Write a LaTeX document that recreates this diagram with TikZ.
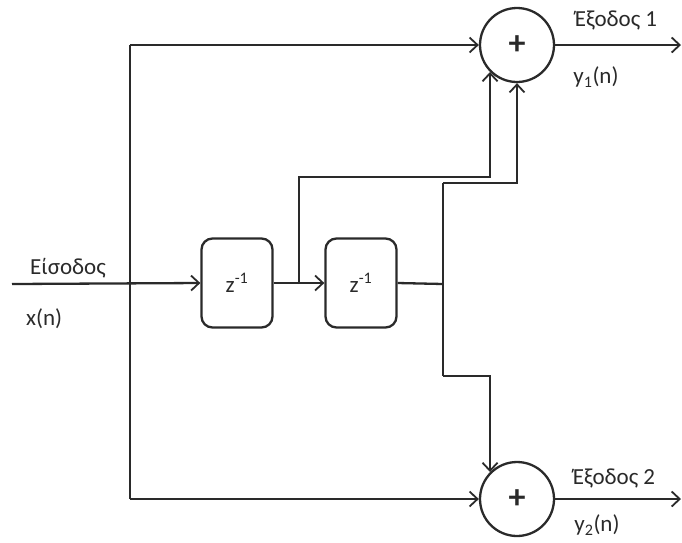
\documentclass[tikz,border=0pt]{standalone}
\usepackage{fontspec}
\setmainfont{Carlito}
\usetikzlibrary{arrows.meta}
\definecolor{ln}{HTML}{2A2A2A}
\begin{document}
\begin{tikzpicture}[x=1pt,y=-1pt,
  wire/.style={draw=ln,line width=2.3pt},
  arr/.style={wire,-{Straight Barb[length=8pt,width=15pt,line width=1.8pt]}},
  delay/.style={draw=ln,line width=2.3pt,rounded corners=11pt,minimum width=71pt,minimum height=89pt,inner sep=0pt,font=\fontsize{23}{26}\selectfont,text=ln},
  adder/.style={draw=ln,line width=2.3pt,circle,minimum size=74pt,inner sep=0pt,font=\bfseries\fontsize{34}{34}\selectfont,text=ln},
  lbl/.style={font=\fontsize{23}{27}\selectfont,text=ln,inner sep=0pt}]
\useasboundingbox (0,0) rectangle (682,542);
\node[delay] (b1) at (237,283) {z\textsuperscript{-1}};
\node[delay] (b2) at (361,283) {z\textsuperscript{-1}};
\node[adder] (a1) at (517,45) {+};
\node[adder] (a2) at (517,499) {+};
\coordinate (in) at (12,284);
\coordinate (j) at (130,284);
\coordinate (jt) at (130,45);
\coordinate (jb) at (130,499);
\coordinate (p1) at (299,284);
\coordinate (k1) at (299,177);
\coordinate (q) at (443,284);
\coordinate (qt) at (443,183);
\coordinate (qb) at (443,376);
\coordinate (o1) at (681,45);
\coordinate (o2) at (681,499);
% input and feedforward lines
\draw[arr] (in) -- (b1.west);
\draw[wire] (jt) -- (jb);
\draw[arr] (jt) -- (a1.west);
\draw[arr] (jb) -- (a2.west);
\draw[arr] (b1.east) -- (b2.west);
\draw[arr] (p1) -- (k1) -| (a1.south west);
\draw[wire] (b2.east) -- (q);
\draw[wire] (qt) -- (qb);
\draw[arr] (qt) -| (a1.south);
\draw[arr] (qb) -| (a2.north west);
\draw[arr] (a1.east) -- (o1);
\draw[arr] (a2.east) -- (o2);
% labels
\node[lbl] (t1) at (68,268) {Είσοδος};
\node[lbl,anchor=west] (t2) at (26,319) {x(n)};
\node[lbl] (t3) at (616,20) {Έξοδος 1};
\node[lbl] (t4) at (596,77) {y\textsubscript{1}(n)};
\node[lbl] (t5) at (614,478) {Έξοδος 2};
\node[lbl] (t6) at (597,525) {y\textsubscript{2}(n)};
\end{tikzpicture}
\end{document}
